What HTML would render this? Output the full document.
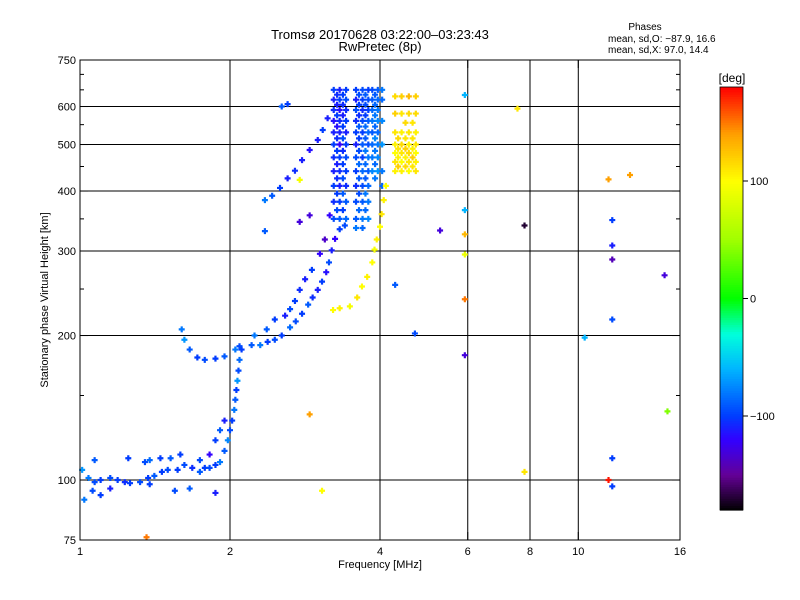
<!DOCTYPE html>
<html><head><meta charset="utf-8"><style>
body{margin:0;background:#fff;}
svg{display:block;font-family:"Liberation Sans",sans-serif;}
</style></head><body>
<svg id="chart" width="800" height="600" viewBox="0 0 800 600" xmlns="http://www.w3.org/2000/svg">
<rect width="800" height="600" fill="#fff"/>
<text x="380" y="39" font-size="13" text-anchor="middle">Tromsø 20170628 03:22:00–03:23:43</text>
<text x="380" y="51" font-size="13" text-anchor="middle">RwPretec (8p)</text>
<g font-size="10">
<text x="645" y="30" text-anchor="middle">Phases</text>
<text x="608" y="42">mean, sd,O: −87.9, 16.6</text>
<text x="608" y="53">mean, sd,X:  97.0, 14.4</text>
</g>
<g id="grid"></g>
<g id="marks"></g>
<rect x="80" y="60" width="600" height="480" fill="none" stroke="#000" stroke-width="1"/>
<g id="axes" font-size="11"></g>
<text x="380" y="568" font-size="11" text-anchor="middle">Frequency [MHz]</text>
<text transform="translate(48,300) rotate(-90)" font-size="11" text-anchor="middle">Stationary phase Virtual Height [km]</text>
<g id="cbar"></g>
<text x="732" y="82" font-size="12" text-anchor="middle">[deg]</text>
</svg>
<script>
const xTicks=[1,2,4,6,8,10,16];
const yTicks=[75,100,200,300,400,500,600,750];
const xGrid=[2,4,6,8,10];
const yGrid=[100,200,300,400,500,600];
const cbTicks=[100,0,-100];
const freqMHz=[
1.01,1.04,1.07,1.10,1.15,1.19,1.23,1.26,1.32,1.37,1.41,1.46,1.50,1.57,1.62,1.68,1.74,1.78,1.82,1.87,1.91,1.95,1.98,2.0,2.02,2.04,2.05,2.06,2.07,2.08,2.09,2.11,
1.07,1.25,1.35,1.38,1.45,1.52,1.59,1.74,1.82,1.87,1.91,1.95,
1.06,1.10,1.15,1.38,1.55,1.66,1.87,1.02,
1.60,1.62,1.66,1.72,1.78,1.87,1.95,2.05,2.09,
2.21,2.30,2.38,2.46,2.54,2.64,2.71,2.79,2.87,2.93,3.0,3.06,3.12,3.16,3.2,3.25,3.32,3.40,
2.24,2.37,2.46,2.58,2.64,2.70,2.76,2.83,2.92,
2.35,2.43,2.52,2.61,2.70,2.79,2.89,3.0,3.07,3.14,2.54,2.61,
2.76,2.89,3.10,3.03,3.17,
3.23,3.23,3.23,3.23,3.23,3.23,3.23,3.23,3.23,3.23,3.23,
3.32,3.32,3.32,3.32,3.32,3.32,3.32,3.32,3.32,3.32,3.32,
3.42,3.42,3.42,3.42,3.42,3.42,3.42,3.42,3.42,3.42,3.42,
3.58,3.58,3.58,3.58,3.58,3.58,3.58,3.58,3.58,3.58,3.58,3.58,
3.69,3.69,3.69,3.69,3.69,3.69,3.69,3.69,3.69,3.69,3.69,3.69,
3.79,3.79,3.79,3.79,3.79,3.79,3.79,3.79,3.79,3.79,3.79,
3.86,3.86,3.86,3.86,3.86,3.86,3.86,3.86,
3.96,3.96,3.96,3.96,3.96,3.96,3.96,3.96,
4.04,4.04,4.04,4.04,4.04,4.04,
3.28,3.28,3.28,3.28,3.28,3.28,3.28,3.28,3.28,3.28,
3.37,3.37,3.37,3.37,3.37,3.37,3.37,3.37,3.37,3.37,
3.63,3.63,3.63,3.63,3.63,3.63,3.63,3.63,3.63,3.63,
3.74,3.74,3.74,3.74,3.74,3.74,3.74,3.74,3.74,3.74,
3.91,3.91,3.91,3.91,3.91,3.91,3.91,3.91,
3.22,3.32,3.48,3.6,3.68,3.77,3.86,3.90,3.94,4.0,4.03,4.07,4.11,
4.29,4.29,4.29,4.29,4.29,4.29,4.29,
4.42,4.42,4.42,4.42,4.42,4.42,4.42,
4.57,4.57,4.57,4.57,4.57,4.57,4.57,
4.72,4.72,4.72,4.72,4.72,4.72,4.72,
4.35,4.35,4.35,4.35,4.5,4.5,4.5,4.5,4.65,4.65,4.65,4.65,4.5,4.65,
5.92,5.92,5.92,5.92,5.92,5.92,7.55,7.8,7.8,11.5,11.7,11.7,11.7,11.7,11.7,11.5,11.7,12.7,14.9,15.1,10.3,2.89,3.06,1.36,4.7,4.29,5.28,2.76,2.35
];
const heightKm=[
105,101,99,100,101,100,99,98.5,99,101,102,104,105,105,107.5,106,104,106,106,107.5,109,115,121,127,133,140,147,154,161,169,178,187,
110,111,109,110,111,111,113,110,113,121,127,133,
95,93,96,98,95,96,94,91,
206,196,187,180,178,179,181,187,190,
191,191,194,196,200,208,214,222,232,240,249,259,271,284,301,318,333,339,
200,206,216,220,227,236,249,262,274,
383,391,406,425,441,464,487,511,536,567,600,607,
345,356,317,296,356,
650,620,590,560,530,500,470,440,410,380,350,
650,620,590,560,530,500,470,440,410,380,350,
650,620,590,560,530,500,470,440,410,380,350,
650,620,590,560,530,500,470,440,410,380,350,335,
650,620,590,560,530,500,470,440,410,380,350,335,
650,620,590,560,530,500,470,440,410,380,350,
650,620,590,560,530,500,470,440,
650,620,590,560,530,500,470,440,
650,620,560,500,440,410,
635,605,575,545,515,485,455,425,395,365,
635,605,575,545,515,485,455,425,395,365,
635,605,575,545,515,485,455,425,395,365,
635,605,575,545,515,485,455,425,395,365,
635,605,575,545,515,485,455,425,
226,228,230,240,253,265,284,302,317,337,358,383,410,
630,580,530,500,480,460,440,
630,580,530,500,480,460,440,
630,580,530,500,480,460,440,
630,580,530,500,480,460,440,
515,490,470,450,515,490,470,450,515,490,470,450,555,555,
634,365,325,295,238,182,594,339,104,423,348,308,288,216,111,100,97,432,267,139,198,137,95,76,202,255,331,422,330
];
const phaseDeg=[
-70,-80,-95,-100,-95,-100,-105,-100,-95,-100,-90,-100,-95,-100,-95,-105,-90,-100,-95,-100,-80,-90,-75,-95,-100,-80,-90,-100,-70,-95,-85,-100,
-90,-100,-95,-85,-100,-90,-100,-95,-120,-100,-90,-110,
-95,-100,-110,-100,-95,-90,-110,-80,
-80,-70,-90,-100,-95,-100,-90,-80,-95,
-90,-80,-100,-95,-100,-85,-95,-100,-90,-105,-110,-100,-115,-95,-110,-120,-100,-95,
-80,-90,-100,-110,-95,-100,-105,-110,-100,
-80,-90,-100,-110,-105,-110,-115,-110,-100,-110,-90,-100,
-130,-130,-135,-120,-120,
-100,-110,-105,-115,-110,-100,-105,-110,-100,-105,-95,
-110,-100,-115,-105,-110,-120,-100,-105,-110,-100,-90,
-100,-95,-105,-100,-110,-100,-95,-100,-105,-90,-85,
-100,-110,-95,-105,-100,-110,-95,-100,-105,-95,-90,-80,
-95,-100,-105,-95,-100,-90,-100,-85,-95,-90,-80,-85,
-100,-95,-100,-90,-85,-95,-80,-90,-85,-80,-75,
-95,-90,-85,-80,-90,-85,-80,-75,
-90,-85,-80,-75,-85,-80,-75,-70,
-80,-85,-75,-70,-80,-85,
-105,-110,-100,-115,-105,-100,-110,-105,-100,-95,
-100,-105,-110,-100,-95,-105,-100,-95,-90,-100,
-95,-100,-105,-90,-100,-95,-85,-90,-95,-85,
-90,-95,-100,-85,-90,-80,-85,-90,-80,-85,
-90,-85,-80,-85,-75,-80,-85,-80,
100,105,95,110,100,105,100,95,105,100,110,105,100,
115,120,110,105,100,110,105,
120,110,105,115,110,100,105,
130,115,110,105,115,110,100,
120,115,105,110,100,105,110,
115,110,105,120,110,120,105,115,110,105,120,110,115,110,
-60,-60,130,90,150,-130,110,-170,110,140,-100,-110,-140,-95,-100,175,-100,140,-130,40,-60,140,100,150,-95,-90,-130,95,-90
];
const NS="http://www.w3.org/2000/svg";
const X0=80,X1=680,Y0=540,Y1=60;
const xs=f=>X0+Math.log2(f)*150;
const ys=h=>Y0-Math.log10(h/75)*480;
const stops=[[-180,0,0,0],[-150,100,0,150],[-120,50,0,255],[-100,0,60,255],[-60,0,180,255],[-30,0,255,220],[0,0,255,0],[50,160,255,0],[100,255,255,0],[140,255,160,0],[180,255,0,0]];
function pcol(p){p=Math.max(-180,Math.min(180,p));for(let i=1;i<stops.length;i++){if(p<=stops[i][0]){const a=stops[i-1],b=stops[i],t=(p-a[0])/(b[0]-a[0]);return `rgb(${Math.round(a[1]+t*(b[1]-a[1]))},${Math.round(a[2]+t*(b[2]-a[2]))},${Math.round(a[3]+t*(b[3]-a[3]))})`;}}return "red";}
function mk(tag,at,parent){const e=document.createElementNS(NS,tag);for(const k in at)e.setAttribute(k,at[k]);parent.appendChild(e);return e;}
const grid=document.getElementById('grid'),axes=document.getElementById('axes'),marks=document.getElementById('marks'),cbar=document.getElementById('cbar');
xGrid.forEach(v=>{const l=mk('line',{x1:xs(v),x2:xs(v),y1:Y1,y2:Y0,stroke:'#000','stroke-width':1},grid);

});
yGrid.forEach(v=>{const l=mk('line',{x1:X0,x2:X1,y1:ys(v),y2:ys(v),stroke:'#000','stroke-width':1},grid);

});
xTicks.forEach(v=>{const x=xs(v);mk('line',{x1:x,x2:x,y1:Y0,y2:Y0-8,stroke:'#000'},axes);mk('line',{x1:x,x2:x,y1:Y1,y2:Y1+8,stroke:'#000'},axes);
const t=mk('text',{x:x,y:Y0+15,'text-anchor':'middle'},axes);t.textContent=v;

});
yTicks.forEach(v=>{const y=ys(v);mk('line',{x1:X0,x2:X0+8,y1:y,y2:y,stroke:'#000'},axes);mk('line',{x1:X1,x2:X1-8,y1:y,y2:y,stroke:'#000'},axes);
const t=mk('text',{x:X0-4,y:y+4,'text-anchor':'end'},axes);t.textContent=v;

});
[150,250,350,450,550,650,700].forEach(v=>{const y=ys(v);mk('line',{x1:X0,x2:X0+4,y1:y,y2:y,stroke:'#000'},axes);mk('line',{x1:X1,x2:X1-4,y1:y,y2:y,stroke:'#000'},axes);});
for(let i=0;i<freqMHz.length;i++){const x=xs(freqMHz[i]),y=ys(heightKm[i]),c=pcol(phaseDeg[i]);
const p=mk('path',{d:`M${x-3},${y}H${x+3}M${x},${y-3}V${y+3}`,stroke:c,'stroke-width':2.2,fill:'none'},marks);

}
const CB_T=87,CB_B=510,cbY=p=>CB_B-(p+180)/360*(CB_B-CB_T);
for(let p=-180;p<180;p+=2){mk('rect',{x:720,y:cbY(p+2),width:23,height:cbY(p)-cbY(p+2)+0.6,fill:pcol(p+1)},cbar);}
mk('rect',{x:720,y:CB_T,width:23,height:CB_B-CB_T,fill:'none',stroke:'#000','stroke-width':0.8},cbar);
cbTicks.forEach(v=>{const y=cbY(v);mk('line',{x1:743,x2:748,y1:y,y2:y,stroke:'#000'},cbar);
const t=mk('text',{x:750,y:y+4,'font-size':11},cbar);t.textContent=v===-100?'−100':v;

});
</script>
</body></html>
